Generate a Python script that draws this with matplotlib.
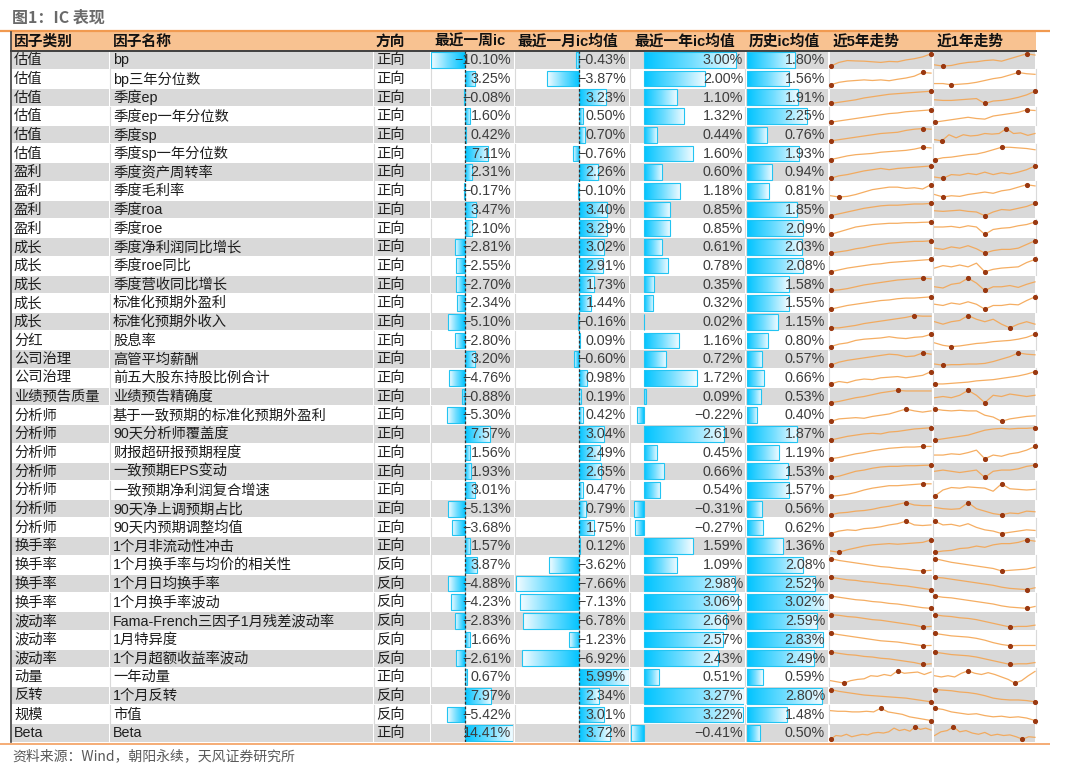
import numpy as np
import matplotlib
matplotlib.use("Agg")
import matplotlib.pyplot as plt
from matplotlib.colors import LinearSegmentedColormap
from matplotlib.patches import Rectangle

plt.rcParams['font.family'] = ['Liberation Sans', 'Noto Sans CJK SC']

title = '图1：IC 表现'
source = '资料来源：Wind，朝阳永续，天风证券研究所'
headers = ['因子类别', '因子名称', '方向', '最近一周ic', '最近一月ic均值',
           '最近一年ic均值', '历史ic均值', '近5年走势', '近1年走势']

categories = ['估值'] * 6 + ['盈利'] * 4 + ['成长'] * 5 + ['分红'] + ['公司治理'] * 2 + \
             ['业绩预告质量'] + ['分析师'] * 7 + ['换手率'] * 4 + ['波动率'] * 3 + \
             ['动量', '反转', '规模', 'Beta']
factors = ['bp', 'bp三年分位数', '季度ep', '季度ep一年分位数', '季度sp', '季度sp一年分位数',
           '季度资产周转率', '季度毛利率', '季度roa', '季度roe',
           '季度净利润同比增长', '季度roe同比', '季度营收同比增长', '标准化预期外盈利', '标准化预期外收入',
           '股息率', '高管平均薪酬', '前五大股东持股比例合计', '业绩预告精确度',
           '基于一致预期的标准化预期外盈利', '90天分析师覆盖度', '财报超研报预期程度', '一致预期EPS变动',
           '一致预期净利润复合增速', '90天净上调预期占比', '90天内预期调整均值',
           '1个月非流动性冲击', '1个月换手率与均价的相关性', '1个月日均换手率', '1个月换手率波动',
           'Fama-French三因子1月残差波动率', '1月特异度', '1个月超额收益率波动',
           '一年动量', '1个月反转', '市值', 'Beta']
directions = ['正向'] * 27 + ['反向'] * 6 + ['正向', '反向', '反向', '正向']

ic_week = [-10.10, 3.25, -0.08, 1.60, 0.42, 7.11, 2.31, -0.17, 3.47, 2.10, -2.81, -2.55, -2.70,
           -2.34, -5.10, -2.80, 3.20, -4.76, -0.88, -5.30, 7.57, 1.56, 1.93, 3.01, -5.13, -3.68,
           1.57, 3.87, -4.88, -4.23, -2.83, 1.66, -2.61, 0.67, 7.97, -5.42, 14.41]
ic_month = [-0.43, -3.87, 3.23, 0.50, 0.70, -0.76, 2.26, -0.10, 3.40, 3.29, 3.02, 2.91, 1.73,
            1.44, -0.16, 0.09, -0.60, 0.98, 0.19, 0.42, 3.04, 2.49, 2.65, 0.47, 0.79, 1.75,
            0.12, -3.62, -7.66, -7.13, -6.78, -1.23, -6.92, 5.99, 2.34, 3.01, 3.72]
ic_year = [3.00, 2.00, 1.10, 1.32, 0.44, 1.60, 0.60, 1.18, 0.85, 0.85, 0.61, 0.78, 0.35, 0.32,
           0.02, 1.16, 0.72, 1.72, 0.09, -0.22, 2.61, 0.45, 0.66, 0.54, -0.31, -0.27, 1.59,
           1.09, 2.98, 3.06, 2.66, 2.57, 2.43, 0.51, 3.27, 3.22, -0.41]
ic_hist = [1.80, 1.56, 1.91, 2.25, 0.76, 1.93, 0.94, 0.81, 1.85, 2.09, 2.03, 2.08, 1.58, 1.55,
           1.15, 0.80, 0.57, 0.66, 0.53, 0.40, 1.87, 1.19, 1.53, 1.57, 0.56, 0.62, 1.36, 2.08,
           2.52, 3.02, 2.59, 2.83, 2.49, 0.59, 2.80, 1.48, 0.50]

trend_5y = [
    [0, 3, 4.5, 4.2, 4, 3.5, 3, 3.8, 3.5, 5, 6, 7.5, 10],
    [0, 2, 3, 3.5, 4, 3.5, 4, 3.3, 4.5, 5.5, 7, 10, 9.5],
    [0, 1, 2, 3, 4.5, 5.5, 6.5, 7.5, 8, 8.5, 9, 9.5, 10],
    [0, 1, 2, 3, 4, 5, 6, 7, 7.5, 8.5, 9, 9.5, 10],
    [0, 1, 2, 3, 4, 5, 6, 6.5, 7, 8.5, 9.5, 10, 9.5],
    [0, 1.5, 3, 4, 4.5, 5, 6, 6.5, 7, 7.5, 8.5, 10, 9.5],
    [0, 2, 3, 4.5, 6, 7, 8, 7, 8, 8.5, 9, 9.5, 10],
    [1, 0, 0.5, 2, 4, 6, 7, 8, 8, 7, 7.5, 6.5, 10],
    [0, 1.5, 3, 4.5, 6, 7, 8, 8.5, 8.5, 9, 9.5, 9.5, 10],
    [0, 2, 4, 6, 7, 8, 8.5, 9, 9, 9.5, 9.5, 9.8, 10],
    [0, 1, 2, 3.5, 4.5, 6, 7, 8, 8.5, 9, 9.5, 9.5, 10],
    [0, 1.5, 3, 4, 5, 6, 6.5, 7.5, 8, 8.5, 9, 9.5, 10],
    [0, 0.5, 1.5, 3, 4.5, 5.5, 6.5, 7.5, 8.5, 9, 9.5, 10, 9.5],
    [0, 1.5, 3, 4, 5, 6, 7, 7.5, 8.5, 9, 9, 9.5, 10],
    [0, 0, 1, 2, 3.5, 4.5, 5.5, 6.5, 7.5, 8.5, 10, 9.5, 9.5],
    [0, 2, 3, 5, 6, 6.5, 7, 8, 7, 6.5, 7.5, 8, 10],
    [0, 2.5, 4, 5, 6, 7, 8, 9, 8.5, 7, 7.5, 10, 9],
    [0, 2, 1, 3, 4, 3.5, 5, 5.5, 6, 5, 6, 7, 10],
    [0, 1, 2.5, 4, 5, 6.5, 8, 9, 10, 9.5, 9.5, 9.5, 9.5],
    [0, 2, 2.5, 3, 2.5, 4, 5, 6, 8, 10, 8.5, 7.5, 8.5],
    [0, 1.5, 3, 4, 5, 5.5, 5, 6.5, 7, 8, 9, 9.5, 10],
    [0, 1, 2.5, 4, 5, 6.5, 7.5, 8.5, 9, 9.5, 9.5, 10, 10],
    [0, 1, 3, 5, 6, 7.5, 8.5, 9, 9, 9.5, 9.5, 9.8, 10],
    [0, 0.5, 1.5, 3, 5, 6.5, 7.5, 8.5, 8.5, 9, 9.5, 10, 10],
    [0, 1.5, 2, 3, 3.5, 4.5, 6, 7, 8.5, 10, 8, 7.5, 7.5],
    [0, 2, 3, 2.5, 4, 4.5, 5.5, 7, 8, 10, 7, 6.5, 7],
    [1, 0, 2, 3.5, 5, 6, 6.5, 7, 6.5, 7, 7.5, 8, 10],
    [10, 8.5, 7.5, 6.5, 5.5, 4.5, 3.5, 3, 2, 1.5, 0.5, 0, 0.5],
    [10, 9, 8, 7.5, 6.5, 6, 5, 4.5, 3.5, 3, 2, 1, 0],
    [10, 9, 8, 7, 6.5, 5.5, 5, 4, 3.5, 2.5, 1.5, 0.5, 0],
    [10, 9.5, 8.5, 8, 7, 6, 5.5, 4.5, 3.5, 2.5, 1.5, 0, 0.5],
    [10, 9, 8, 7, 6, 5, 4, 3.5, 3, 2, 1, 0, 0.2],
    [10, 9, 8, 7.5, 6.5, 6, 5, 4.5, 3.5, 2.5, 1.5, 0, 0.5],
    [2, 1, 0, 2, 3, 3.5, 6, 5.5, 7, 6, 10, 8, 8.5, 9, 7, 9],
    [10, 8.5, 7.5, 6.5, 5.5, 5, 4.5, 4, 3.5, 3, 2, 1, 0],
    [8, 7.5, 7.5, 7, 7, 7.5, 7, 10, 7, 6, 5, 3, 2, 1, 0],
    [0, 3, 2.5, 4, 2, 3, 4, 3.5, 5, 5.5, 5, 6, 9, 7, 8, 6.5, 10, 8, 9, 7.5],
]
trend_1y = [
    [1, 0, 0.5, 2, 3, 3.5, 4.5, 5, 4, 6, 8, 10, 9],
    [1, 1, 0, 0.5, 1, 2, 3.5, 5, 6, 8, 10, 9, 8.5],
    [3, 2.5, 2.5, 3, 3.5, 4, 0, 2, 2.5, 3.5, 5, 7, 10],
    [0, 1, 2, 3, 4, 3, 2.5, 5, 6, 7, 8, 10, 9.5],
    [1, 0, 5, 2.5, 5, 4, 4.5, 6, 5.5, 6, 10, 6, 6.5, 4.5, 6],
    [0, 1.5, 2, 3, 4, 4.5, 6, 8, 10, 10, 9.5, 9, 8],
    [1, 0, 3, 2.5, 4, 3, 5, 3, 4.5, 3.5, 5, 7, 10],
    [2, 0, 1, 0.5, 2, 3, 4, 3, 5, 6, 8, 10, 9],
    [4, 3.5, 4, 4.5, 3.5, 3, 0, 3, 5, 4.5, 6, 7.5, 10],
    [6, 6, 6.5, 5.5, 7, 6, 0, 4, 5, 5.5, 7, 8, 10],
    [4, 3, 5, 4, 6, 3.5, 0, 2, 3, 3, 4, 7, 10],
    [3, 5, 4, 5.5, 4, 7, 0, 2, 3, 3.5, 4, 7.5, 10],
    [3, 2, 5, 6, 10, 6, 0, 3, 3, 4, 2.5, 5, 7],
    [4, 3, 5, 4, 6, 4, 0, 3, 3, 4, 3.5, 7, 10],
    [5, 3, 5, 6, 10, 7, 5, 7, 3, 0, 3, 5, 3],
    [3, 1, 0, 0.5, 1.5, 2.5, 3, 4, 4.5, 5, 6, 7.5, 10],
    [1, 0, 0.5, 0.5, 1, 1, 1.5, 3, 5, 7, 10, 9, 8.5],
    [0, 0, 0.5, 1, 1.5, 2.5, 3, 3.5, 4.5, 5.5, 6.5, 8, 10],
    [4, 5, 4, 6, 10, 6, 0, 6, 5, 7, 6, 5, 6],
    [10, 9, 8.5, 9, 8.5, 8.5, 5, 3.5, 0, 2, 3, 4, 4.5],
    [0, 1, 2, 3, 4, 6, 8, 9, 9.5, 9, 9.5, 9.5, 10],
    [3, 3, 4, 3.5, 5, 7, 0, 3, 2, 4, 5, 7, 10],
    [5, 6, 5, 4, 5, 6, 0, 5, 6, 6, 7, 9, 10],
    [0, 5, 7, 6.5, 7.5, 7, 6.5, 4, 10, 6, 5.5, 5, 5.5],
    [6, 5, 4.5, 5, 10, 5, 3, 1, 0, 1.5, 1, 3, 2.5],
    [10, 7, 7.5, 6, 8, 5, 3, 2, 0, 1, 2, 3, 2.5],
    [0, 1, 1.5, 3, 3.5, 5, 4, 6, 7, 7, 8, 10, 9],
    [10, 8.5, 7, 6, 5, 4, 3, 2, 0, 0.5, 1, 1.5, 3],
    [10, 9.5, 8.5, 7.5, 6.5, 5.5, 4.5, 3.5, 2, 1, 0.5, 0, 1.5],
    [10, 9, 8.5, 7.5, 6.5, 5.5, 4.5, 3.5, 2, 1, 0.5, 0, 1.5],
    [10, 9, 8.5, 7.5, 7, 6, 4.5, 3, 1.5, 0, 0.5, 0.5, 1.5],
    [10, 9, 8, 7.5, 7, 6, 4.5, 2.5, 1, 0, 0.2, 0.2, 0.2],
    [10, 9, 8, 7.5, 7, 6, 4.5, 3, 1.5, 0, 0.5, 0.5, 1.5],
    [6, 5, 6, 5, 8, 10, 8, 7, 8.5, 7, 5, 3, 0, 2, 6, 9.5],
    [10, 9.5, 9, 8, 7.5, 6.5, 5, 3, 2, 1.5, 1.5, 1, 0],
    [10, 9, 7, 6, 5, 5.5, 4, 3, 3.5, 2.5, 3, 2, 0],
    [3, 6, 7, 10, 6, 7, 5, 4, 5.5, 3, 4, 3, 3.5, 2, 0, 2, 1.5],
]

# ---------------- layout (pixels) ----------------
W, H = 1080, 770
fig = plt.figure(figsize=(W / 100, H / 100), dpi=100)
n = len(factors)
HEAD_TOP, TOP, BOT = 32.0, 50.6, 742.4
RH = (BOT - TOP) / n
borders = [11, 109.5, 373.6, 430.5, 514.7, 629.6, 745.3, 829, 933, 1036]
head_x = [14, 113, 376, 434.7, 517.6, 634.6, 749, 832.5, 937]


def add_px_axes(x0, x1, y0, y1, z=1):
    ax = fig.add_axes([x0 / W, 1 - y1 / H, (x1 - x0) / W, (y1 - y0) / H], zorder=z)
    ax.set_axis_off()
    return ax


bg = add_px_axes(0, W, 0, H, z=0)
bg.set_xlim(0, W)
bg.set_ylim(H, 0)

# header fill
bg.add_patch(Rectangle((borders[0], HEAD_TOP), borders[-1] - borders[0], TOP - HEAD_TOP,
                       fc='#F8C291', ec='none'))
# row backgrounds
for i in range(n):
    y0 = TOP + i * RH
    if i % 2 == 0:
        for a, b in zip(borders[:-1], borders[1:]):
            bg.add_patch(Rectangle((a + 0.6, y0 + 0.6), b - a - 1.2, RH - 1.2,
                                   fc='#D9D9D9', ec='none'))
    else:
        for b in borders[1:]:
            bg.plot([b, b], [y0, y0 + RH], color='#DADADA', lw=0.8)

bg.plot([0, 1050], [31.3, 31.3], color='#F19A50', lw=1.6, solid_capstyle='butt')
bg.plot([borders[0], borders[-1]], [TOP, TOP], color='#404040', lw=1.4)
bg.plot([borders[0]] * 2, [HEAD_TOP, BOT], color='#404040', lw=1.2)
bg.plot([0, 1050], [743.8, 743.8], color='#F4A66A', lw=1.3, solid_capstyle='butt')

# ---------------- data bars ----------------
cmap = LinearSegmentedColormap.from_list('bar', ['#00C4FF', '#6FDDFF', '#F4FCFF'])
grad = np.linspace(0, 1, 256).reshape(1, -1)
bar_cols = [(ic_week, 431.0, 512.5, True, 511),
            (ic_month, 515.5, 629.0, True, 626),
            (ic_year, 631.0, 744.3, False, 743),
            (ic_hist, 746.6, 828.3, False, 825)]
num_specs = []
for vals, x0, x1, dashed, xr in bar_cols:
    ax = add_px_axes(x0, x1, TOP, BOT, z=2)
    ys = np.arange(n)
    hb = 0.84
    bars = ax.barh(ys, vals, height=hb, left=0, color='none',
                   edgecolor='#22C4F2', linewidth=0.8, zorder=2)
    for b, v, y in zip(bars, vals, ys):
        im = ax.imshow(grad, cmap=cmap, extent=[0, v, y + hb / 2, y - hb / 2],
                       aspect='auto', interpolation='bilinear', zorder=1)
        im.set_clip_path(b)
    ax.set_xlim(min(0, min(vals)), max(0, max(vals)))
    ax.set_ylim(n - 0.5, -0.5)
    if dashed:
        ax.axvline(0, color='#333333', lw=0.9, ls=(0, (2.2, 1.6)), zorder=3)
    num_specs.append((vals, xr))

# ---------------- sparklines ----------------
for i in range(n):
    y0 = TOP + i * RH
    for series, sx0, sx1 in [(trend_5y[i], 829.6, 932.0), (trend_1y[i], 933.6, 1036.0)]:
        ax = add_px_axes(sx0, sx1, y0, y0 + RH, z=3)
        s = np.asarray(series, float)
        t = np.arange(len(s))
        ax.plot(t, s, color='#F4A552', lw=0.9, alpha=0.9, solid_joinstyle='round')
        k = [int(np.argmin(s)), int(np.argmax(s))]
        ax.plot(t[k], s[k], 'o', ms=2.7, color='#9A3810', mec='#9A3810', clip_on=False)
        span = s.max() - s.min()
        m = span * 3.2 / (RH - 6.4)
        ax.set_ylim(s.min() - m, s.max() + m)
        L = len(s) - 1
        ax.set_xlim(-0.01 * L, 1.01 * L)

# ---------------- texts ----------------
ov = add_px_axes(0, W, 0, H, z=6)
ov.set_xlim(0, W)
ov.set_ylim(H, 0)

ov.text(12, 17.5, title, fontsize=11.5, fontweight='bold', color='#6A6A6A', va='center',
        family=['Noto Sans CJK SC', 'DejaVu Sans'])
for hx, h in zip(head_x, headers):
    ov.text(hx, (HEAD_TOP + TOP) / 2 + 0.5, h, fontsize=10.6, fontweight='bold',
            color='#111111', va='center')

for i in range(n):
    yc = TOP + (i + 0.5) * RH + 0.3
    ov.text(14, yc, categories[i], fontsize=10.3, color='#1E1E1E', va='center')
    ov.text(113, yc, factors[i], fontsize=10.3, color='#1E1E1E', va='center')
    ov.text(376, yc, directions[i], fontsize=10.3, color='#1E1E1E', va='center')
    for vals, xr in num_specs:
        v = vals[i]
        s = f'{abs(v):.2f}%'
        if v < 0:
            s = '\u2212' + s
        ov.text(xr, yc, s, fontsize=10.3, color='#3C3C3C', va='center', ha='right')

ov.text(12, 756, source, fontsize=10, color='#595959', va='center',
        family=['Noto Sans CJK SC', 'DejaVu Sans'])

fig.savefig('out.png', dpi=100)
